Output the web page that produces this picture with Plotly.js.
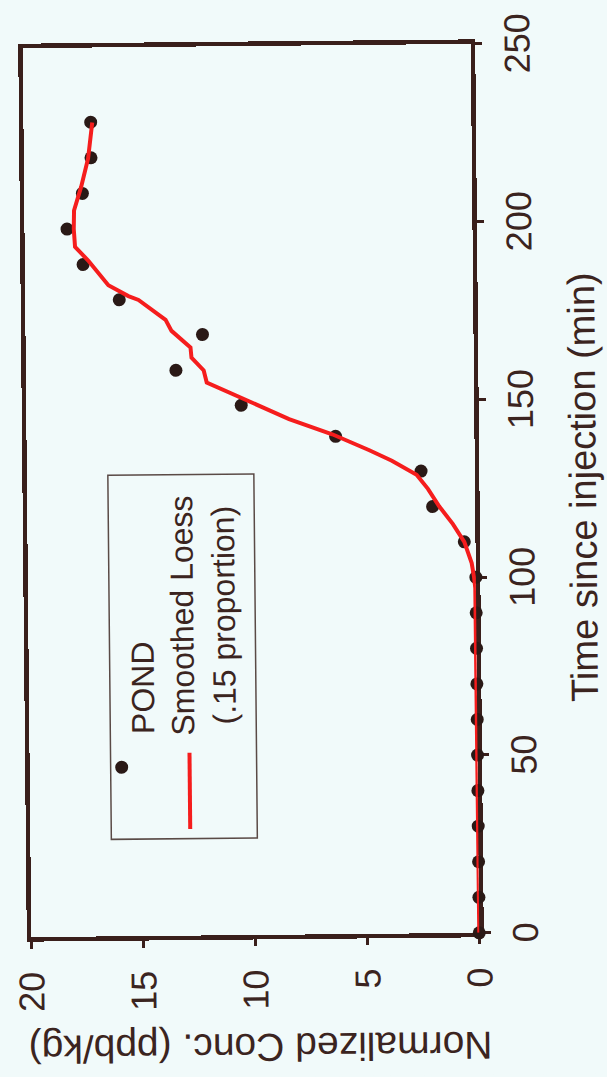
<!DOCTYPE html>
<html>
<head>
<meta charset="utf-8">
<script src="https://cdn.plot.ly/plotly-3.0.1.min.js"></script>
<style>
  html, body { margin: 0; padding: 0; width: 607px; height: 1077px; overflow: hidden; background: #f1fafa; }
  /* The chart is laid out landscape and turned a quarter-turn counter-clockwise onto the portrait page */
  #chart {
    position: absolute;
    left: -335px;
    top: 239px;
    width: 1077px;
    height: 607px;
    transform-origin: 586.5px 251.5px;
    transform: rotate(-90.55deg);
  }
</style>
</head>
<body>
<div id="chart"></div>
<script>
// Tracer concentration at the pond, minutes after injection
const pondTime = [0, 10, 20, 30, 40, 50, 60, 70, 80, 90, 100, 110, 120, 130, 140, 149, 159, 169, 179, 189, 199, 209, 219, 229];
const pondConc = [0, 0, 0, 0, 0, 0, 0, 0, 0, 0, 0, 0.5, 1.9, 2.4, 6.2, 10.4, 13.3, 12.1, 15.8, 17.4, 18.1, 17.4, 17.0, 17.0];

// Loess smooth (0.15 span)
const loessTime = [0, 10, 20, 30, 40, 50, 60, 70, 80, 90, 97, 100, 104, 110, 115, 120, 125, 129, 133, 136, 140.6, 145, 149.3, 151.9, 155.5, 158.9, 162.5, 165.4, 170.1, 173.2, 178.9, 180, 183.1, 190.1, 194, 199, 204.2, 210.9, 218.8, 228.9];
const loessConc = [0, 0, 0, 0, 0, 0, 0, 0, 0, 0, 0.03, 0.08, 0.18, 0.5, 1.0, 1.6, 2.1, 2.6, 3.7, 4.7, 6.35, 8.27, 9.74, 10.64, 11.93, 12.06, 12.6, 12.64, 13.48, 13.74, 14.94, 15.39, 16.28, 17.17, 17.75, 17.8, 17.78, 17.45, 17.13, 16.93];

const timeTicks = [0, 50, 100, 150, 200, 250];
const concTicks = [0, 5, 10, 15, 20];

const ink = '#3b2420';
const frame = '#3a1f1b';
const dotColor = '#2a1916';
const red = '#f51d1d';
const font = 'Liberation Sans, Arial, sans-serif';

const traces = [
  {
    x: pondTime, y: pondConc, type: 'scatter', mode: 'markers', name: 'POND',
    marker: { color: dotColor, size: 13 }, cliponaxis: false, showlegend: false
  },
  {
    x: loessTime, y: loessConc, type: 'scatter', mode: 'lines', name: 'Smoothed Loess (.15 proportion)',
    line: { color: red, width: 4 }, cliponaxis: false, showlegend: false
  }
];

const layout = {
  width: 1077, height: 607,
  margin: { l: 142, r: 46, t: 27, b: 132 },
  paper_bgcolor: '#f1fafa',
  plot_bgcolor: '#f1fafa',
  font: { family: font, color: ink },
  showlegend: false,
  xaxis: {
    range: [0, 250], tickvals: timeTicks, ticktext: timeTicks.map(String),
    showgrid: false, zeroline: false,
    showline: true, linecolor: frame, linewidth: 4.5, mirror: true,
    ticks: 'outside', ticklen: 7, tickwidth: 3, tickcolor: frame,
    tickfont: { size: 36, color: ink, family: font },
    ticklabelstandoff: 4,
    layer: 'below traces'
  },
  yaxis: {
    range: [0, 20], tickvals: concTicks, ticktext: concTicks.map(String),
    showgrid: false, zeroline: false,
    showline: true, linecolor: frame, linewidth: 4.5, mirror: true,
    ticks: 'outside', ticklen: 7, tickwidth: 3, tickcolor: frame,
    tickfont: { size: 36, color: ink, family: font },
    ticklabelstandoff: 16,
    layer: 'below traces'
  },
  annotations: [
    { text: 'Time since injection (min)', xref: 'paper', yref: 'paper', x: 0.5, y: -0.2411,
      xanchor: 'center', yanchor: 'middle', showarrow: false, font: { size: 38, color: ink, family: font } },
    { text: 'Normalized Conc. (ppb/kg)', xref: 'paper', yref: 'paper', x: -0.127, y: 0.491,
      xanchor: 'center', yanchor: 'middle', textangle: -90, showarrow: false, font: { size: 39, color: ink, family: font } },
    { text: 'POND', xref: 'paper', yref: 'paper', x: 0.2250, y: 0.7455,
      xanchor: 'left', yanchor: 'middle', showarrow: false, font: { size: 32, color: ink, family: font } },
    { text: 'Smoothed Loess<br>(.15 proportion)', xref: 'paper', yref: 'paper', x: 0.3600, y: 0.6094,
      xanchor: 'center', yanchor: 'middle', align: 'center', showarrow: false, font: { size: 32, color: ink, family: font } }
  ],
  shapes: [
    // legend frame
    { type: 'rect', xref: 'paper', yref: 'paper', x0: 0.1091, x1: 0.5186, y0: 0.4933, y1: 0.8192,
      line: { color: '#5a4a46', width: 1.5 }, fillcolor: 'rgba(0,0,0,0)' },
    // legend key: smoothed line
    { type: 'line', xref: 'paper', yref: 'paper', x0: 0.1200, x1: 0.2058, y0: 0.6429, y1: 0.6429,
      line: { color: red, width: 4 } },
    // legend key: data dot
    { type: 'circle', xref: 'paper', yref: 'paper', xsizemode: 'pixel', ysizemode: 'pixel',
      xanchor: 0.1901, yanchor: 0.7946, x0: -6.5, x1: 6.5, y0: -6.5, y1: 6.5,
      line: { color: dotColor, width: 0 }, fillcolor: dotColor }
  ]
};

Plotly.newPlot('chart', traces, layout, { displayModeBar: false, staticPlot: true });
</script>
</body>
</html>
